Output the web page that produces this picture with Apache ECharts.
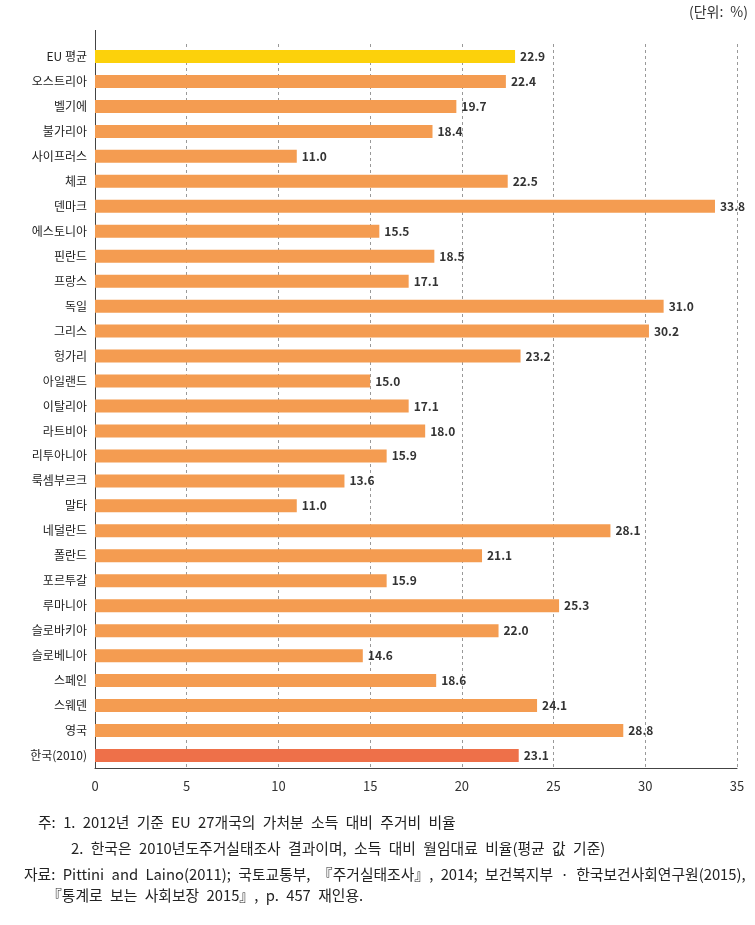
<!DOCTYPE html>
<html>
<head>
<meta charset="utf-8">
<script src="https://cdn.jsdelivr.net/npm/echarts@6/dist/echarts.min.js"></script>
<style>
html, body { margin: 0; padding: 0; background: #fff; }
#chart { width: 755px; height: 925px; }
</style>
</head>
<body>
<div id="chart"></div>
<script>
// 국가별 주거비 부담 비율 (단위: %)
var countries = ['EU 평균', '오스트리아', '벨기에', '불가리아', '사이프러스', '체코', '덴마크', '에스토니아', '핀란드', '프랑스',
    '독일', '그리스', '헝가리', '아일랜드', '이탈리아', '라트비아', '리투아니아', '룩셈부르크', '말타', '네덜란드',
    '폴란드', '포르투갈', '루마니아', '슬로바키아', '슬로베니아', '스페인', '스웨덴', '영국', '한국(2010)']
var ratio = [22.9, 22.4, 19.7, 18.4, 11.0, 22.5, 33.8, 15.5, 18.5, 17.1,
    31.0, 30.2, 23.2, 15.0, 17.1, 18.0, 15.9, 13.6, 11.0, 28.1,
    21.1, 15.9, 25.3, 22.0, 14.6, 18.6, 24.1, 28.8, 23.1]
var xTicks = [0, 5, 10, 15, 20, 25, 30, 35]
var notes = [
    '주: 1. 2012년 기준 EU 27개국의 가처분 소득 대비 주거비 비율',
    '2. 한국은 2010년도주거실태조사 결과이며, 소득 대비 월임대료 비율(평균 값 기준)',
    '자료: Pittini and Laino(2011); 국토교통부, 『주거실태조사』, 2014; 보건복지부 · 한국보건사회연구원(2015),',
    '『통계로 보는 사회보장 2015』, p. 457 재인용.'
]

var kr = '"Noto Sans CJK KR", sans-serif'
var noteFont = '14.8px "Noto Sans CJK KR", sans-serif'
// 원본처럼 넓은 띄어쓰기
function wide(s) {
    return s.replace(/ /g, '\u2002')
}
function note(x, y, s) {
    return {type: 'text', x: x, y: y, style: {text: wide(s), font: noteFont, fill: '#222', verticalAlign: 'middle'}}
}

var dom = document.getElementById('chart')
var chart = echarts.init(dom)
var option = {
    animation: false,
    grid: {
        left: 95,
        right: 18,
        top: 44,
        bottom: 157
    },
    xAxis: {
        type: 'value',
        min: xTicks[0],
        max: xTicks[xTicks.length - 1],
        interval: 5,
        axisLine: {show: true, lineStyle: {color: '#444', width: 1}},
        axisTick: {show: false},
        axisLabel: {
            color: '#333',
            fontSize: 13,
            fontFamily: kr,
            margin: 12
        },
        splitLine: {
            show: true,
            lineStyle: {color: '#999', type: [3, 3], width: 1}
        }
    },
    yAxis: {
        type: 'category',
        inverse: true,
        data: countries,
        axisLine: {show: true, lineStyle: {color: '#444', width: 1}},
        axisTick: {show: false},
        axisLabel: {
            color: '#222',
            fontSize: 12,
            fontFamily: kr,
            margin: 8
        },
        splitLine: {show: false}
    },
    series: [{
        type: 'bar',
        data: ratio,
        barWidth: 13,
        itemStyle: {
            color: function (p) {
                if (p.dataIndex == 0) return '#FCD10B'
                if (p.dataIndex == ratio.length - 1) return '#EE7049'
                return '#F49C51'
            }
        },
        label: {
            show: true,
            position: 'right',
            distance: 5,
            color: '#333',
            fontSize: 12,
            fontWeight: 'bold',
            fontFamily: kr,
            formatter: function (p) {
                return p.value.toFixed(1)
            }
        }
    }],
    graphic: [
        {type: 'line', shape: {x1: 95.5, y1: 30, x2: 95.5, y2: 44}, style: {stroke: '#444', lineWidth: 1}},
        {type: 'text', x: 748, y: 12, style: {text: wide('(단위: %)'), font: '14px ' + kr, fill: '#333', align: 'right', verticalAlign: 'middle'}},
        note(38, 822, notes[0]),
        note(71, 848, notes[1]),
        note(24, 874, notes[2]),
        note(47, 895, notes[3])
    ]
}
chart.setOption(option, true)
</script>
</body>
</html>
